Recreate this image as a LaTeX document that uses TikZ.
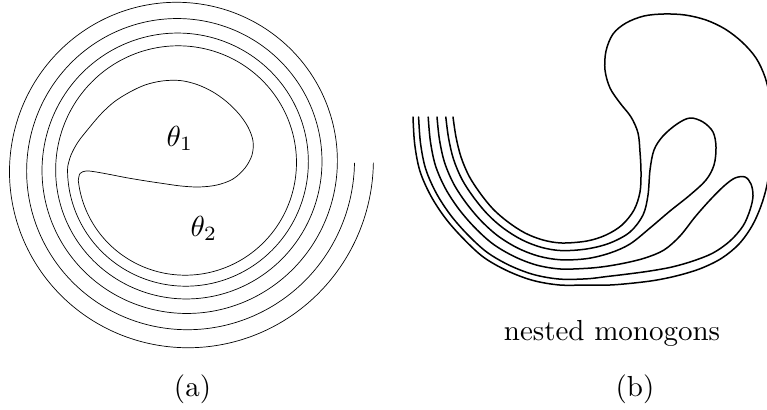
\documentclass[tikz,border=0pt]{standalone}
\begin{document}
\begin{tikzpicture}[x=1pt,y=-1pt,
  spiral/.style={line width=0.7pt, line join=round},
  mono/.style={line width=1.5pt, line join=round, line cap=round},
  lbl/.style={scale=2.9, inner sep=0pt},
  declare function={Rsp(\t)=126.3+0.0708*(\t)+(0.0052*(\t))*(0.0052*(\t));}]
\useasboundingbox (0,0) rectangle (767,409);
\clip (0,0) rectangle (767,409);

% (a) double spiral with the two monogon regions
\draw[spiral]
  plot[smooth, domain=0:893, samples=300, variable=\t]
     ({182+Rsp(541-\t)*cos(721-\t)},{166-Rsp(541-\t)*sin(721-\t)})
  -- plot[smooth, tension=0.55] coordinates {
     (78.3,180.6) (80,173.5) (86,171) (95,171.8) (110,174.5) (127,177.8)
     (145,180.8) (163,183.5) (181,186) (199,187) (217,185) (233,179)
     (245,168) (252,155) (253,141) (248,127) (239,114) (227,102) (213,92)
     (197,84.5) (180,80.5) (162,81) (145,85) (129,92.5) (114,102) (101,114)
     (89,128) (78,142) (71,155) (67.8,166)}
  -- plot[smooth, domain=-178:721, samples=300, variable=\t]
     ({182+Rsp(\t)*cos(\t)},{166-Rsp(\t)*sin(\t)});

\node[lbl, anchor=base west] (t1) at (166,146) {$\theta_1$};
\node[lbl, anchor=base west] (t2) at (190,236) {$\theta_2$};

% (b) nested monogons
\draw[mono] plot[smooth, tension=0.55] coordinates {
  (453,117) (456,137) (461,157) (469,176) (480,193) (493,209) (508,222)
  (525,233) (543,240) (562,243) (587,241)
  (606,235) (622,225) (634,210) (640,192) (641,172) (640,152) (638,133)
  (631,117) (620,103) (610,88) (605,70) (606,51) (613,34) (626,23) (644,16)
  (664,14) (685,15) (706,20) (725,29) (742,42) (756,58) (765,77) (770,98)
  (772,119) (772,141) (770,163) (767,185) (761,206) (752,226) (739,244)
  (722,258) (702,268) (680,275) (657,280) (634,283) (610,285)
  (587,285) (559.6,285) (532.8,280.4) (507.5,270.9) (483.8,257.4)
  (463.7,239) (445.7,218.6) (430.8,195.8) (419.9,171) (414.7,144.2)
  (413,117)};
\draw[mono] plot[smooth, tension=0.55] coordinates {
  (445.8,117) (448.6,138.3) (453.6,159.5) (462.1,179.6) (473.8,197.6)
  (487.7,214.4) (503.6,228.4) (521.9,239.8) (541.2,247.3) (561.6,250.6)
  (587,248.9)
  (610,243) (630,232) (643,215) (648,195) (650,170) (654,150) (663,136)
  (677,124) (690,118) (703,122) (713,132) (716,147) (714,165) (706,180)
  (690,195) (670,211) (650,228) (630,244) (610,253)
  (587,258.6) (561,259.8) (538.9,256.2) (518,248.2) (498.3,236.2)
  (481.3,221) (466.3,203.2) (453.7,183.9) (444.6,162.6) (439.5,139.9)
  (437,117)};
\draw[mono] plot[smooth, tension=0.55] coordinates {
  (428.2,117) (430.4,141.5) (435.5,165.7) (445.3,188.3) (458.7,208.9)
  (474.8,227.6) (493,244) (514.2,256.5) (536.7,265.1) (560.5,269)
  (587,268.3)
  (605,266.5) (625,263) (645,258) (664,250) (680,236) (695,217) (710,200)
  (724,186) (735,178) (745,177) (751,184) (753,196) (750,210) (743,226)
  (730,241) (713,253) (693,261) (672,267) (650,271) (628,274) (607,276.5)
  (587,278.8) (559.9,279.1) (534.2,274.7) (510,265.6) (487.2,252.4)
  (467.8,234.8) (450.5,215) (436.2,193) (425.7,169) (420.5,143.2)
  (418.6,117)};

\node[lbl, anchor=base] (nm) at (612,340) {nested monogons};

% captions
\node[lbl, anchor=base] (capa) at (192.5,396) {(a)};
\node[lbl, anchor=base] (capb) at (635,396) {(b)};
\end{tikzpicture}
\end{document}
